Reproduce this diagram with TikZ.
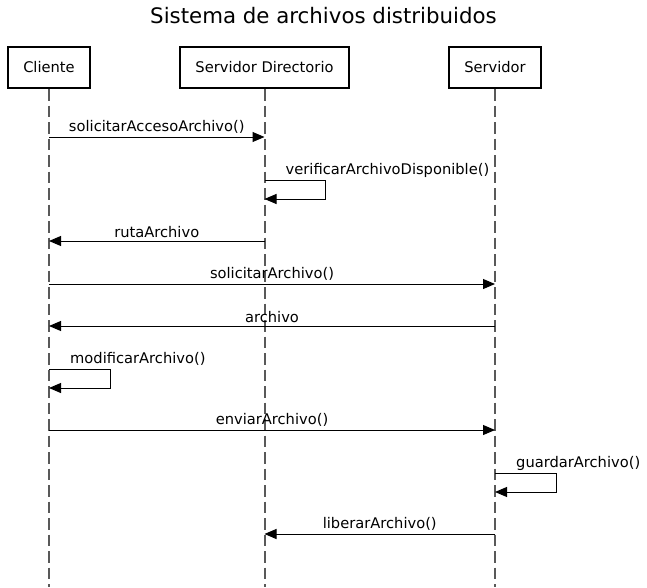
\documentclass[tikz,border=0pt]{standalone}
\usepackage{fontspec}
\setmainfont{DejaVu Sans}
\usetikzlibrary{arrows.meta, positioning}

\begin{document}
\begin{tikzpicture}[x=1pt, y=-1pt,
    actor/.style={draw, line width=2pt, inner xsep=15pt, minimum height=41pt,
        font=\fontsize{14.67}{17}\selectfont},
    life/.style={draw=black!65, line width=2pt, dash pattern=on 11.5pt off 5pt},
    msg/.style={draw, line width=1pt, -{Triangle[length=12pt, width=10pt]}},
    lbl/.style={inner sep=1pt, font=\fontsize{14.67}{17}\selectfont}]
	\useasboundingbox (0,0) rectangle (647,587);

	%Title
    \node (title) at (323.5,16) {\fontsize{21.33}{25}\selectfont Sistema de archivos distribuidos};

	%Actors
    \node[actor] (cli) at (49,67.5) {Cliente};
    \node[actor] (dir) at (264.5,67.5) {Servidor Directorio};
    \node[actor] (srv) at (495,67.5) {Servidor};

	%Lifelines
    \coordinate (end) at (0,587);
    \draw[life] (cli.south) -- (cli |- end);
    \draw[life] (dir.south) -- (dir |- end);
    \draw[life] (srv.south) -- (srv |- end);

	%Message rows
    \coordinate (m1) at (0,137);
    \coordinate (m2) at (0,180);
    \coordinate (m3) at (0,241);
    \coordinate (m4) at (0,284);
    \coordinate (m5) at (0,326);
    \coordinate (m6) at (0,369);
    \coordinate (m7) at (0,430);
    \coordinate (m8) at (0,473);
    \coordinate (m9) at (0,534);

	% Messages
    \draw[msg] (cli |- m1) to node[lbl, above=2pt] {solicitarAccesoArchivo()} (dir |- m1);
    \draw[msg] (dir |- m2) -- ++(61,0) -- ++(0,19) -- ++(-61,0);
    \node[lbl, anchor=base west] (l2) at ([xshift=20pt, yshift=6pt]dir |- m2) {verificarArchivoDisponible()};
    \draw[msg] (dir |- m3) to node[lbl, above=2pt] {rutaArchivo} (cli |- m3);
    \draw[msg] (cli |- m4) to node[lbl, above=2pt] {solicitarArchivo()} (srv |- m4);
    \draw[msg] (srv |- m5) to node[lbl, above=2pt] {archivo} (cli |- m5);
    \draw[msg] (cli |- m6) -- ++(61,0) -- ++(0,19) -- ++(-61,0);
    \node[lbl, anchor=base west] (l6) at ([xshift=20pt, yshift=6pt]cli |- m6) {modificarArchivo()};
    \draw[msg] (cli |- m7) to node[lbl, above=2pt] {enviarArchivo()} (srv |- m7);
    \draw[msg] (srv |- m8) -- ++(61,0) -- ++(0,19) -- ++(-61,0);
    \node[lbl, anchor=base west] (l8) at ([xshift=20pt, yshift=6pt]srv |- m8) {guardarArchivo()};
    \draw[msg] (srv |- m9) to node[lbl, above=2pt] {liberarArchivo()} (dir |- m9);

\end{tikzpicture}
\end{document}
